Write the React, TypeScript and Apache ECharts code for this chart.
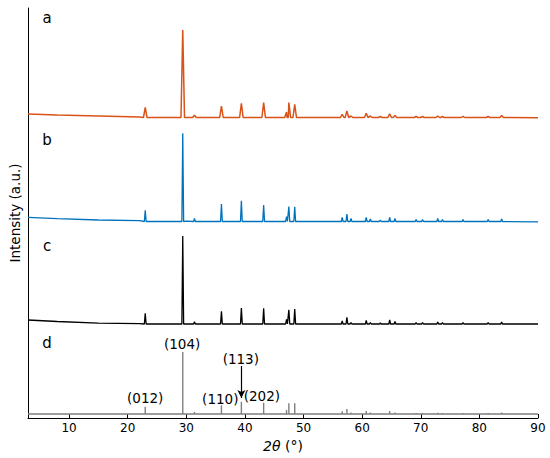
import React, { useEffect, useRef } from "react";
import * as echarts from "echarts";

// 2θ ticks
const TWO_THETA_TICKS = [10, 20, 30, 40, 50, 60, 70, 80, 90];

// Background (relative to each pattern's zero level), [2θ, intensity]
const BASELINE_A: [number, number][] = [[3, 3.5], [8, 2.5], [15, 1.5], [22, 0.5], [30, 0], [90, -0.3]];
const BASELINE_B: [number, number][] = [[3, 4.2], [8, 2.8], [15, 1.5], [22, 0.8], [30, 0.3], [50, 0], [90, -0.3]];
const BASELINE_C: [number, number][] = [[3, 4], [8, 2.5], [15, 0.8], [22, 0.3], [30, 0], [90, 0]];

// Peaks [2θ, height above background]
const PEAKS_A: [number, number][] = [
  [23.0, 10.2], [29.4, 87.5], [31.4, 2.2], [36.0, 11.5], [39.4, 14.2], [43.2, 14.8],
  [47.1, 5.5], [47.5, 15], [48.5, 13.2], [56.6, 3.2], [57.4, 6.5], [58.1, 1.5],
  [60.7, 4.2], [61.4, 1.5], [63.1, 1], [64.7, 3.8], [65.6, 2], [69.2, 1], [70.3, 1],
  [72.9, 1.5], [73.7, 1], [77.2, 1.2], [81.5, 1], [83.8, 2],
];
const PEAKS_B: [number, number][] = [
  [23.0, 11.2], [29.4, 88.2], [31.4, 3.2], [36.0, 17.5], [39.4, 20.8], [43.2, 16.5],
  [47.1, 4.8], [47.5, 15], [48.5, 14.8], [56.6, 4.2], [57.4, 7.5], [58.1, 3],
  [60.7, 4.2], [61.4, 2.5], [63.1, 1.5], [64.7, 4.2], [65.6, 3], [69.2, 2], [70.3, 2],
  [72.9, 3], [73.7, 2], [77.2, 2], [81.5, 2], [83.8, 2.5],
];
const PEAKS_C: [number, number][] = [
  [23.0, 10.7], [29.4, 88], [31.4, 2.3], [36.0, 12.7], [39.4, 16], [43.2, 15.7],
  [47.1, 4.7], [47.5, 14.3], [48.5, 15], [56.6, 3], [57.4, 6.7], [58.1, 1.5],
  [60.7, 3.5], [61.4, 1.5], [63.1, 1], [64.7, 4], [65.6, 2.5], [69.2, 1.5], [70.3, 1.5],
  [72.9, 2], [73.7, 1.5], [77.2, 1.3], [81.5, 1.3], [83.8, 2],
];
// Reference pattern (sticks) [2θ, relative intensity]
const STICKS_D: [number, number][] = [
  [23.0, 7.3], [29.4, 62], [31.4, 2], [36.0, 8.7], [39.4, 12.3], [43.2, 11.3],
  [47.1, 4], [47.5, 10.7], [48.5, 10.7], [56.6, 2.7], [57.4, 5], [58.1, 1.5],
  [60.7, 3], [61.4, 1.5], [64.7, 3], [65.6, 1.5], [69.2, 1], [70.3, 1],
  [72.9, 1.3], [73.7, 1], [77.2, 1], [81.5, 1], [83.8, 1.5],
];
// Miller indices labels [2θ, label]
const HKL: [number, string][] = [
  [23.0, "(012)"], [29.3, "(104)"], [35.8, "(110)"], [39.3, "(113)"], [42.9, "(202)"],
];
const HKL_LEVEL = [16, 70, 15, 54.7, 18.3];

const PATTERN_NAMES = ["a", "b", "c", "d"];
const OFFSETS = [300.5, 196.5, 94, 4];
const COLORS = ["#D95319", "#0072BD", "#000000", "#7f7f7f"];

const X_MIN = 3;
const X_MAX = 90;

function buildTrace(baseline: [number, number][], peaks: [number, number][], hw: number, off: number) {
  const pts: [number, number][] = baseline.map(([x, y]) => [x, y]);
  peaks.forEach(([p, h]) => {
    pts.push([p - hw, 0], [p, h], [p + hw, 0]);
  });
  pts.sort((u, v) => u[0] - v[0]);
  return pts.map(([x, y]) => [x, y + off]);
}

function buildSticks(sticks: [number, number][], off: number) {
  const pts: number[][] = [[X_MIN, off]];
  sticks.forEach(([p, h]) => {
    pts.push([p, off], [p, off + h], [p, off]);
  });
  pts.push([X_MAX, off]);
  return pts;
}

export default function App() {
  const ref = useRef<HTMLDivElement>(null);
  useEffect(() => {
    document.body.style.margin = "0";
    const chart = echarts.init(ref.current!, null, { renderer: "svg" });
    const font = "DejaVu Sans";
    const traceA = buildTrace(BASELINE_A, PEAKS_A, 0.3, OFFSETS[0]);
    const traceB = buildTrace(BASELINE_B, PEAKS_B, 0.15, OFFSETS[1]);
    const traceC = buildTrace(BASELINE_C, PEAKS_C, 0.15, OFFSETS[2]);
    const traceD = buildSticks(STICKS_D, OFFSETS[3]);
    const letterY = [18, 140, 245.7, 343];
    chart.setOption({
      animation: false,
      textStyle: { fontFamily: font },
      grid: { left: 27, right: 12, top: 8, bottom: 40 },
      xAxis: {
        type: "value",
        min: X_MIN,
        max: X_MAX,
        name: "{i|2θ} (°)",
        nameLocation: "middle",
        nameGap: 20,
        nameTextStyle: {
          fontSize: 14,
          color: "#000",
          fontFamily: font,
          rich: { i: { fontStyle: "italic", fontSize: 14, fontFamily: font, color: "#000" } },
        },
        axisLine: { show: true, lineStyle: { color: "#000", width: 1 } },
        axisTick: { show: true, inside: true, length: 4, customValues: TWO_THETA_TICKS, lineStyle: { color: "#000" } },
        axisLabel: { show: true, customValues: TWO_THETA_TICKS, margin: 4, fontSize: 12, color: "#000", fontFamily: font },
        splitLine: { show: false },
      },
      yAxis: {
        type: "value",
        min: 0,
        max: 410,
        name: "Intensity (a.u.)",
        nameLocation: "middle",
        nameGap: 6,
        nameTextStyle: { fontSize: 13.5, color: "#000", fontFamily: font },
        axisLine: { show: true, lineStyle: { color: "#000", width: 1 } },
        axisTick: { show: false },
        axisLabel: { show: false },
        splitLine: { show: false },
      },
      graphic: PATTERN_NAMES.map((n, i) => ({
        type: "text",
        x: 47,
        y: letterY[i],
        style: { text: n, fontSize: 15, fontFamily: font, fill: "#000", align: "center", verticalAlign: "middle" },
      })),
      series: [
        {
          type: "line",
          name: "d",
          data: traceD,
          showSymbol: false,
          lineStyle: { color: COLORS[3], width: 1.4 },
          markLine: {
            silent: true,
            symbol: ["none", "arrow"],
            symbolSize: [6, 8],
            label: { show: false },
            lineStyle: { color: "#000", width: 1.2, type: "solid" },
            data: [[{ coord: [39.4, OFFSETS[3] + 48] }, { coord: [39.4, OFFSETS[3] + 16] }]],
          },
        },
        { type: "line", name: "c", data: traceC, showSymbol: false, lineStyle: { color: COLORS[2], width: 1.3 } },
        { type: "line", name: "b", data: traceB, showSymbol: false, lineStyle: { color: COLORS[1], width: 1.3 } },
        { type: "line", name: "a", data: traceA, showSymbol: false, lineStyle: { color: COLORS[0], width: 1.5 } },
        {
          type: "scatter",
          name: "hkl",
          symbolSize: 0,
          itemStyle: { opacity: 1, color: "#000" },
          data: HKL.map(([x, t], i) => [x, OFFSETS[3] + HKL_LEVEL[i], t]),
          label: {
            show: true,
            position: "inside",
            formatter: (p: any) => p.data[2],
            fontSize: 13.5,
            color: "#000",
            opacity: 1,
            textBorderWidth: 0,
            fontFamily: font,
          },
        },
      ],
    });
    return () => chart.dispose();
  }, []);
  return <div ref={ref} style={{ width: 550, height: 458 }} />;
}
